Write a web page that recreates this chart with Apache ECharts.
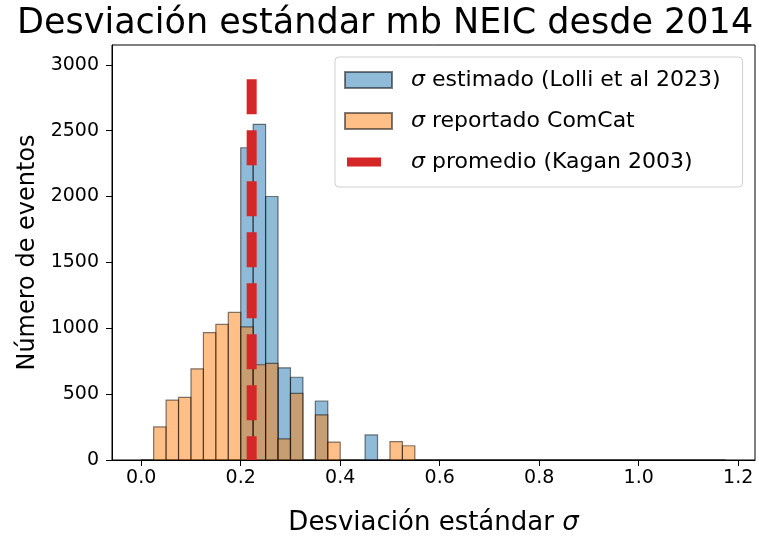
<!DOCTYPE html>
<html>
<head>
<meta charset="utf-8">
<script src="https://cdn.jsdelivr.net/npm/echarts@6/dist/echarts.min.js"></script>
<style>
  html, body { margin: 0; padding: 0; background: #fff; }
  #chart { width: 759px; height: 541px; }
</style>
</head>
<body>
<div id="chart"></div>
<script>
// Histogram bin width and lower edges (shared by both histograms)
const binWidth = 0.025;
const binEdges = [
  0.000, 0.025, 0.050, 0.075, 0.100, 0.125, 0.150, 0.175, 0.200, 0.225,
  0.250, 0.275, 0.300, 0.325, 0.350, 0.375, 0.400, 0.425, 0.450, 0.475,
  0.500, 0.525, 0.550, 0.575, 0.600, 0.625, 0.650, 0.675, 0.700, 0.725,
  0.750, 0.775, 0.800, 0.825, 0.850, 0.875, 0.900, 0.925, 0.950, 0.975,
  1.000, 1.025, 1.050, 1.075, 1.100, 1.125, 1.150
];

// Event counts per bin: sigma estimated (Lolli et al 2023)
const countsEstimado = [
  0, 0, 0, 0, 0, 0, 0, 0, 2370, 2548,
  2000, 700, 628, 0, 448, 0, 0, 0, 190, 0,
  0, 0, 0, 0, 0, 0, 0, 0, 0, 0,
  0, 0, 0, 0, 0, 0, 0, 0, 0, 0,
  0, 0, 0, 0, 0, 0, 0
];

// Event counts per bin: sigma reported by ComCat
const countsComCat = [
  0, 251, 455, 475, 692, 967, 1029, 1120, 1010, 723,
  733, 160, 505, 0, 342, 136, 0, 0, 0, 0,
  140, 108, 0, 0, 0, 0, 0, 0, 0, 0,
  0, 0, 0, 0, 0, 0, 0, 0, 0, 0,
  0, 0, 0, 0, 0, 0, 0
];

// Mean sigma (Kagan 2003) drawn as a vertical dashed line
const sigmaPromedio = 0.222;
const lineTop = 3000;

const xTicks = [0.0, 0.2, 0.4, 0.6, 0.8, 1.0, 1.2];
const yTicks = [0, 500, 1000, 1500, 2000, 2500, 3000];

const FONT = 'DejaVu Sans';

function histData(counts) {
  return binEdges.map((e, i) => [e, e + binWidth, counts[i]]);
}

function renderBin(params, api) {
  const p0 = api.coord([api.value(0), api.value(2)]);
  const p1 = api.coord([api.value(1), 0]);
  const st = api.style();
  return {
    type: 'rect',
    shape: { x: p0[0], y: p0[1], width: p1[0] - p0[0], height: p1[1] - p0[1] },
    style: { fill: st.fill, stroke: 'rgba(0,0,0,0.5)', lineWidth: 1.2 }
  };
}

const chart = echarts.init(document.getElementById('chart'), null, { renderer: 'canvas' });

chart.setOption({
  animation: false,
  backgroundColor: '#fff',
  textStyle: { fontFamily: FONT },
  title: {
    text: 'Desviación estándar mb NEIC desde 2014',
    left: 12,
    top: 1,
    textStyle: { fontFamily: FONT, fontSize: 35, fontWeight: 'normal', color: '#000' }
  },
  legend: {
    left: 335,
    top: 57,
    orient: 'vertical',
    padding: [10, 22, 12, 9],
    itemGap: 15,
    itemWidth: 47,
    itemHeight: 16,
    borderColor: '#d0d0d0',
    borderWidth: 1,
    borderRadius: 4,
    backgroundColor: 'rgba(255,255,255,0.8)',
    textStyle: {
      fontFamily: FONT, fontSize: 22, color: '#000', lineHeight: 26,
      rich: {
        s: { fontFamily: FONT, fontSize: 22, fontStyle: 'italic', color: '#000', lineHeight: 26, padding: [0, 0, 0, 14] },
        t: { fontFamily: FONT, fontSize: 22, color: '#000', lineHeight: 26 }
      }
    },
    formatter: function (name) {
      return '{s|σ}{t|' + name.slice(1) + '}';
    },
    data: [
      { name: 'σ estimado (Lolli et al 2023)', icon: 'rect' },
      { name: 'σ reportado ComCat', icon: 'rect' },
      {
        name: 'σ promedio (Kagan 2003)',
        icon: 'path://M0,0L0,0Z M47,16L47,16Z M2,3.5H36V12.5H2Z',
        itemStyle: { color: '#d62728', borderWidth: 0 }
      }
    ]
  },
  grid: {
    left: 112, top: 45, width: 643, height: 426,
    show: true, borderColor: '#000', borderWidth: 1, backgroundColor: 'transparent'
  },
  xAxis: {
    type: 'value',
    min: -0.05875,
    max: 1.23375,
    name: '{t|Desviación estándar }{s|σ}',
    nameLocation: 'middle',
    nameGap: 50,
    nameTextStyle: {
      rich: {
        t: { fontFamily: FONT, fontSize: 26, color: '#000' },
        s: { fontFamily: FONT, fontSize: 26, fontStyle: 'italic', color: '#000' }
      }
    },
    axisLine: { show: true, onZero: false, lineStyle: { color: '#000', width: 1 } },
    axisTick: { show: true, customValues: xTicks, length: 6, inside: false, lineStyle: { color: '#000' } },
    axisLabel: {
      customValues: xTicks, fontFamily: FONT, fontSize: 19, color: '#000', margin: 9,
      formatter: v => v.toFixed(1)
    },
    splitLine: { show: false }
  },
  yAxis: {
    type: 'value',
    min: 0,
    max: 3150,
    name: 'Número de eventos',
    nameLocation: 'middle',
    nameGap: 70,
    nameTextStyle: { fontFamily: FONT, fontSize: 24, color: '#000' },
    axisLine: { show: true, onZero: false, lineStyle: { color: '#000', width: 1 } },
    axisTick: { show: true, customValues: yTicks, length: 6, inside: false, lineStyle: { color: '#000' } },
    axisLabel: {
      customValues: yTicks, fontFamily: FONT, fontSize: 19, color: '#000', margin: 13,
      formatter: v => String(v)
    },
    splitLine: { show: false }
  },
  series: [
    {
      name: 'σ estimado (Lolli et al 2023)',
      type: 'custom',
      renderItem: renderBin,
      encode: { x: [0, 1], y: 2 },
      itemStyle: { color: 'rgba(31,119,180,0.5)', borderColor: 'rgba(0,0,0,0.5)', borderWidth: 1.2 },
      data: histData(countsEstimado),
      z: 2
    },
    {
      name: 'σ reportado ComCat',
      type: 'custom',
      renderItem: renderBin,
      encode: { x: [0, 1], y: 2 },
      itemStyle: { color: 'rgba(255,127,14,0.5)', borderColor: 'rgba(0,0,0,0.5)', borderWidth: 1.2 },
      data: histData(countsComCat),
      z: 3
    },
    {
      name: 'σ promedio (Kagan 2003)',
      type: 'line',
      symbol: 'none',
      data: [[sigmaPromedio, lineTop], [sigmaPromedio, 0]],
      // dash phase chosen so a full dash sits on the baseline
      lineStyle: { color: '#d62728', width: 10, type: [35, 16], dashOffset: 36.6, cap: 'butt' },
      itemStyle: { color: '#d62728' },
      z: 4
    }
  ]
});
</script>
</body>
</html>
